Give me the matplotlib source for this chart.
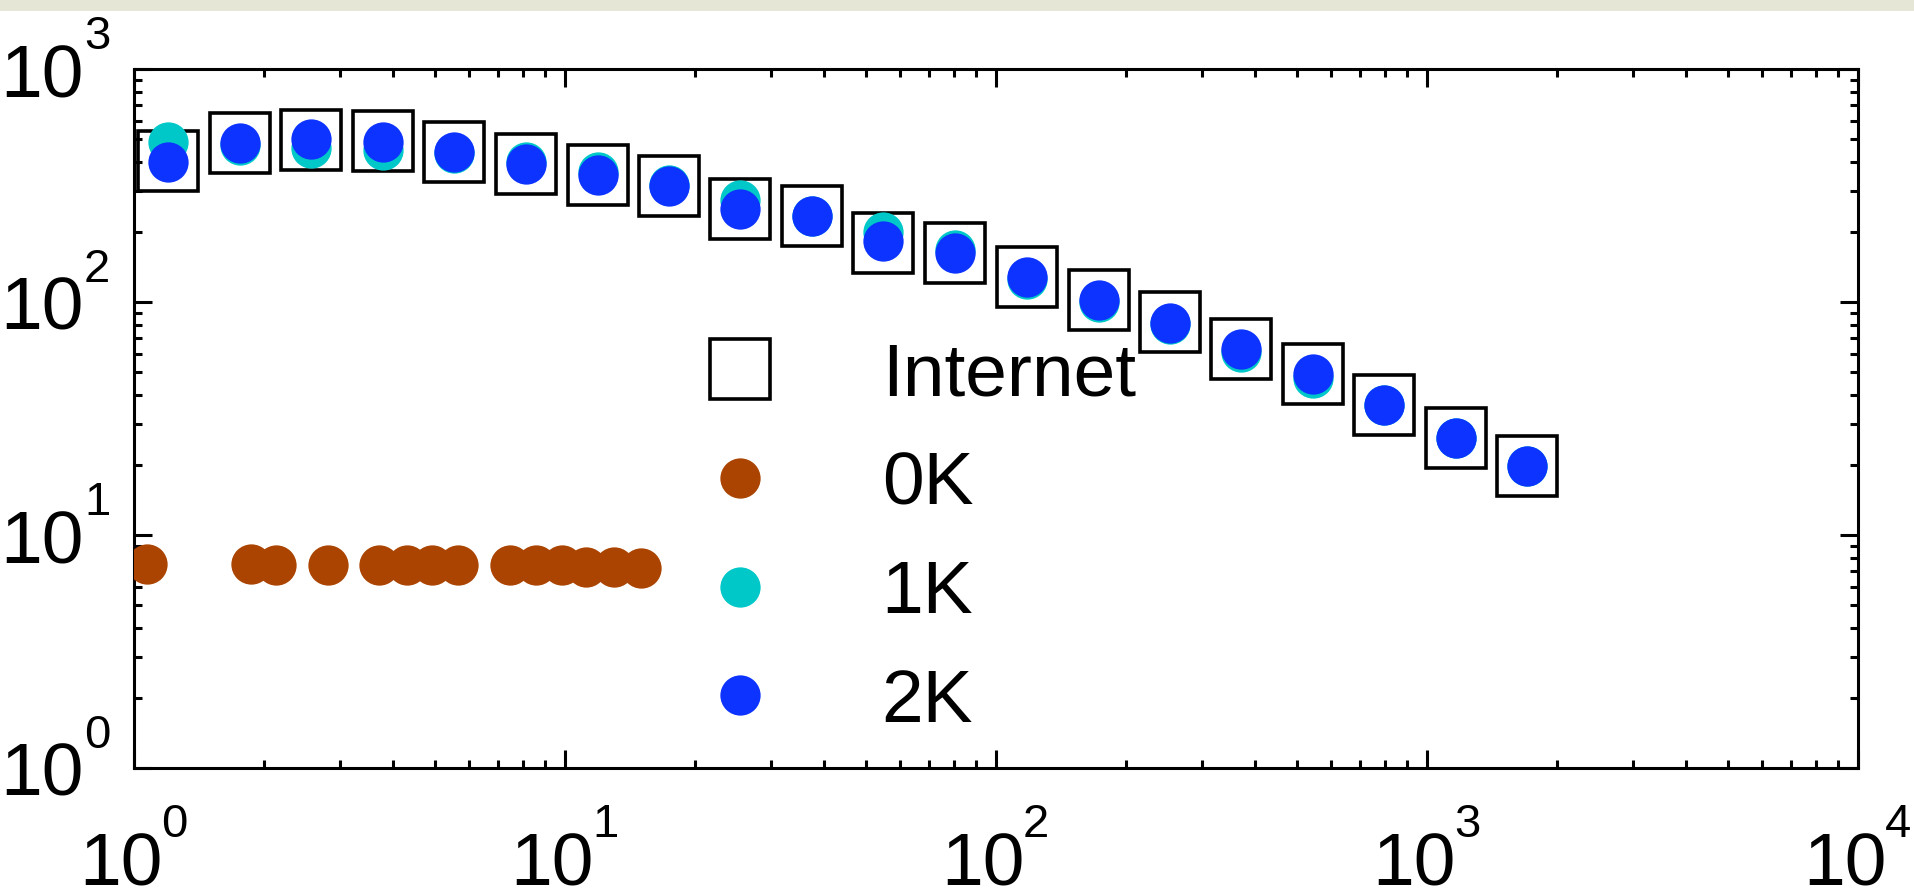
import matplotlib
matplotlib.use("Agg")
import matplotlib.pyplot as plt
from matplotlib.patches import Rectangle
from matplotlib.transforms import offset_copy
from matplotlib.ticker import NullFormatter

plt.rcParams['font.family'] = ['Liberation Sans', 'DejaVu Sans']

# values
internet_x = [1.20, 1.76, 2.58, 3.78, 5.53, 8.11, 11.9, 17.4, 25.5, 37.4,
              54.8, 80.4, 118, 173, 253, 371, 543, 796, 1167, 1710]
internet_y = [404, 481, 496, 491, 441, 393, 351, 315, 251, 234,
              180, 162, 128, 102, 82, 63, 49, 36, 26, 19.8]
k1_y = [487, 472, 457, 449, 436, 400, 363, 319, 274, 234,
        200, 167, 126, 100, 80.5, 61, 47, 36, 26, 19.8]
k2_y = [400, 481, 499, 487, 442, 390, 351, 316, 250, 234,
        183, 162, 128, 102, 81.5, 63, 49, 36, 26, 19.8]
k0_x = [1.07, 1.87, 2.14, 2.82, 3.71, 4.29, 4.92, 5.64, 7.45, 8.55, 9.82, 11.2, 13.0, 15.0]
k0_y = [7.5, 7.5, 7.4, 7.4, 7.4, 7.4, 7.4, 7.4, 7.4, 7.4, 7.4, 7.3, 7.3, 7.2]

labels = ['Internet', '0K', '1K', '2K']
x_exps = [0, 1, 2, 3, 4]
y_exps = [0, 1, 2, 3]

brown = '#aa4400'
cyan = '#00c8c8'
blue = '#0c33ff'

W, H = 1915, 891
fig = plt.figure(figsize=(W / 100, H / 100), dpi=100)
fig.patch.set_facecolor('white')

# pale strip at the very top
fig.add_artist(Rectangle((0, 1 - 11 / H), 1, 11 / H, transform=fig.transFigure,
                         facecolor='#e6e6d6', edgecolor='none'))

ax = fig.add_axes([134 / W, 1 - 768 / H, (1858 - 134) / W, (768 - 69) / H])
ax.set_xscale('log')
ax.set_yscale('log')
ax.set_xlim(1, 1e4)
ax.set_ylim(1, 1e3)

h_int, = ax.plot(internet_x, internet_y, 's', ms=43, mfc='none', mec='black', mew=2.6, zorder=2)
h0, = ax.plot(k0_x, k0_y, 'o', ms=29, color=brown, mew=0, zorder=3)
h1, = ax.plot(internet_x, k1_y, 'o', ms=29, color=cyan, mew=0, zorder=4)
h2, = ax.plot(internet_x, k2_y, 'o', ms=29, color=blue, mew=0, zorder=5)

for s in ax.spines.values():
    s.set_linewidth(2.2)
ax.tick_params(which='both', direction='in', top=True, right=True, width=2.2)
ax.tick_params(which='major', length=13)
ax.tick_params(which='minor', length=6)
ax.xaxis.set_major_formatter(NullFormatter())
ax.xaxis.set_minor_formatter(NullFormatter())
ax.yaxis.set_major_formatter(NullFormatter())
ax.yaxis.set_minor_formatter(NullFormatter())

# tick labels drawn as "10" plus a raised exponent
xt = ax.get_xaxis_transform()
for k in x_exps:
    ax.text(10 ** k, 0, '10', fontsize=54, ha='right', va='baseline', clip_on=False,
            transform=offset_copy(xt, fig=fig, x=29, y=-117, units='dots'))
    ax.text(10 ** k, 0, str(k), fontsize=34, ha='left', va='baseline', clip_on=False,
            transform=offset_copy(xt, fig=fig, x=27, y=-69, units='dots'))

yt = ax.get_yaxis_transform()
for k in y_exps:
    ax.text(0, 10 ** k, '10', fontsize=54, ha='right', va='baseline', clip_on=False,
            transform=offset_copy(yt, fig=fig, x=-50, y=-28, units='dots'))
    ax.text(0, 10 ** k, str(k), fontsize=34, ha='left', va='baseline', clip_on=False,
            transform=offset_copy(yt, fig=fig, x=-50, y=20, units='dots'))

ax.legend([h_int, h0, h1, h2], labels, loc='center left',
          bbox_to_anchor=(702.5 / W, 1 - 539 / H), bbox_transform=fig.transFigure,
          frameon=False, fontsize=54, handlelength=1.0, handletextpad=1.39,
          labelspacing=0.53, borderpad=0, borderaxespad=0, numpoints=1)

fig.savefig('out.png', dpi=100)
